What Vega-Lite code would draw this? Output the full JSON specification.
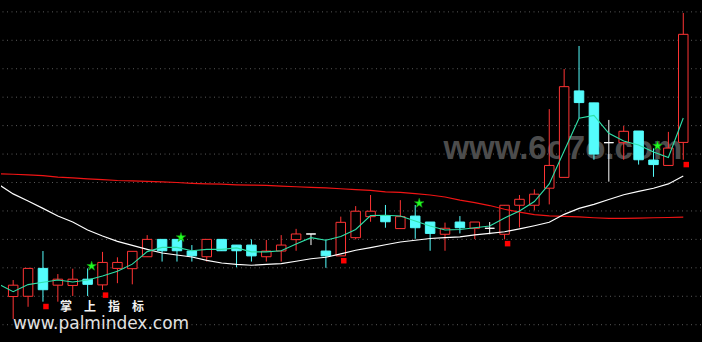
{
  "$schema": "https://vega.github.io/schema/vega-lite/v6.json",
  "width": 702,
  "height": 342,
  "autosize": {"type": "fit", "contains": "padding"},
  "padding": 0,
  "background": "#000000",
  "config": {"view": {"stroke": null}},
  "datasets": {
    "k": [
      {"i":0,"t":"up","o":0.99,"h":1.57,"l":0.20,"c":1.39},
      {"i":1,"t":"up","o":1.00,"h":1.98,"l":0.63,"c":1.98},
      {"i":2,"t":"down","o":1.98,"h":2.59,"l":0.81,"c":1.23},
      {"i":3,"t":"up","o":1.39,"h":1.78,"l":0.81,"c":1.60},
      {"i":4,"t":"up","o":1.38,"h":1.97,"l":1.01,"c":1.60},
      {"i":5,"t":"down","o":1.60,"h":1.98,"l":1.01,"c":1.42},
      {"i":6,"t":"up","o":1.40,"h":2.56,"l":1.22,"c":2.19},
      {"i":7,"t":"up","o":1.98,"h":2.37,"l":1.46,"c":2.19},
      {"i":8,"t":"up","o":1.97,"h":2.58,"l":1.42,"c":2.58},
      {"i":9,"t":"up","o":2.39,"h":3.15,"l":2.39,"c":3.00},
      {"i":10,"t":"down","o":3.00,"h":3.00,"l":2.22,"c":2.60},
      {"i":11,"t":"down","o":3.00,"h":3.00,"l":2.22,"c":2.60},
      {"i":12,"t":"down","o":2.59,"h":2.80,"l":2.22,"c":2.42},
      {"i":13,"t":"up","o":2.39,"h":3.00,"l":2.22,"c":3.00},
      {"i":14,"t":"down","o":3.00,"h":3.00,"l":2.60,"c":2.60},
      {"i":15,"t":"down","o":2.80,"h":2.80,"l":2.02,"c":2.60},
      {"i":16,"t":"down","o":2.80,"h":3.00,"l":2.22,"c":2.42},
      {"i":17,"t":"up","o":2.39,"h":2.98,"l":2.22,"c":2.59},
      {"i":18,"t":"up","o":2.59,"h":3.15,"l":2.22,"c":2.80},
      {"i":19,"t":"up","o":2.99,"h":3.37,"l":2.60,"c":3.19},
      {"i":20,"t":"doji","o":3.19,"h":3.19,"l":2.80,"c":3.19},
      {"i":21,"t":"down","o":2.59,"h":3.00,"l":2.00,"c":2.42},
      {"i":22,"t":"up","o":2.42,"h":3.80,"l":2.42,"c":3.60},
      {"i":23,"t":"up","o":3.06,"h":4.17,"l":3.00,"c":3.99},
      {"i":24,"t":"up","o":3.80,"h":4.56,"l":3.62,"c":3.99},
      {"i":25,"t":"down","o":3.83,"h":4.21,"l":3.41,"c":3.62},
      {"i":26,"t":"up","o":3.38,"h":4.38,"l":3.38,"c":3.80},
      {"i":27,"t":"down","o":3.82,"h":4.21,"l":3.02,"c":3.41},
      {"i":28,"t":"down","o":3.61,"h":3.61,"l":2.60,"c":3.21},
      {"i":29,"t":"up","o":3.18,"h":3.59,"l":2.60,"c":3.39},
      {"i":30,"t":"down","o":3.61,"h":3.82,"l":3.21,"c":3.41},
      {"i":31,"t":"up","o":3.39,"h":3.61,"l":3.01,"c":3.61},
      {"i":32,"t":"doji","o":3.39,"h":3.61,"l":3.18,"c":3.39},
      {"i":33,"t":"up","o":3.18,"h":4.21,"l":3.00,"c":4.20},
      {"i":34,"t":"up","o":4.20,"h":4.56,"l":3.42,"c":4.41},
      {"i":35,"t":"up","o":4.20,"h":4.76,"l":4.02,"c":4.59},
      {"i":36,"t":"up","o":4.80,"h":7.58,"l":4.23,"c":5.60},
      {"i":37,"t":"up","o":5.18,"h":8.99,"l":5.18,"c":8.37},
      {"i":38,"t":"down","o":8.22,"h":9.80,"l":7.26,"c":7.81},
      {"i":39,"t":"down","o":7.80,"h":7.80,"l":5.80,"c":6.00},
      {"i":40,"t":"doji","o":6.40,"h":7.20,"l":5.03,"c":6.40},
      {"i":41,"t":"up","o":6.40,"h":6.99,"l":5.80,"c":6.80},
      {"i":42,"t":"down","o":6.81,"h":6.81,"l":5.63,"c":5.80},
      {"i":43,"t":"down","o":5.79,"h":6.20,"l":5.20,"c":5.63},
      {"i":44,"t":"up","o":5.60,"h":6.78,"l":5.60,"c":6.21},
      {"i":45,"t":"up","o":6.41,"h":10.96,"l":5.80,"c":10.21}
    ],
    "ma": [
      {"i":-1,"f":1.43,"w":4.94,"r":5.31},
      {"i":0,"f":1.16,"w":4.60,"r":5.29},
      {"i":1,"f":1.41,"w":4.35,"r":5.27},
      {"i":2,"f":1.49,"w":4.09,"r":5.24},
      {"i":3,"f":1.57,"w":3.82,"r":5.19},
      {"i":4,"f":1.50,"w":3.61,"r":5.16},
      {"i":5,"f":1.57,"w":3.33,"r":5.13},
      {"i":6,"f":1.71,"w":3.12,"r":5.10},
      {"i":7,"f":1.88,"w":2.93,"r":5.07},
      {"i":8,"f":2.13,"w":2.79,"r":5.06},
      {"i":9,"f":2.57,"w":2.65,"r":5.04},
      {"i":10,"f":2.72,"w":2.52,"r":5.02},
      {"i":11,"f":2.72,"w":2.45,"r":5.00},
      {"i":12,"f":2.60,"w":2.38,"r":4.97},
      {"i":13,"f":2.65,"w":2.26,"r":4.95},
      {"i":14,"f":2.65,"w":2.17,"r":4.94},
      {"i":15,"f":2.70,"w":2.12,"r":4.92},
      {"i":16,"f":2.56,"w":2.09,"r":4.91},
      {"i":17,"f":2.56,"w":2.12,"r":4.90},
      {"i":18,"f":2.60,"w":2.15,"r":4.87},
      {"i":19,"f":2.84,"w":2.23,"r":4.85},
      {"i":20,"f":3.06,"w":2.32,"r":4.83},
      {"i":21,"f":2.97,"w":2.37,"r":4.81},
      {"i":22,"f":3.10,"w":2.49,"r":4.78},
      {"i":23,"f":3.35,"w":2.62,"r":4.75},
      {"i":24,"f":3.84,"w":2.71,"r":4.72},
      {"i":25,"f":3.85,"w":2.81,"r":4.67},
      {"i":26,"f":3.82,"w":2.91,"r":4.65},
      {"i":27,"f":3.65,"w":2.97,"r":4.61},
      {"i":28,"f":3.47,"w":3.03,"r":4.56},
      {"i":29,"f":3.33,"w":3.06,"r":4.49},
      {"i":30,"f":3.35,"w":3.09,"r":4.38},
      {"i":31,"f":3.41,"w":3.16,"r":4.29},
      {"i":32,"f":3.47,"w":3.21,"r":4.19},
      {"i":33,"f":3.75,"w":3.27,"r":4.06},
      {"i":34,"f":4.00,"w":3.37,"r":3.96},
      {"i":35,"f":4.33,"w":3.48,"r":3.87},
      {"i":36,"f":4.95,"w":3.60,"r":3.83},
      {"i":37,"f":6.11,"w":3.88,"r":3.81},
      {"i":38,"f":7.26,"w":4.09,"r":3.79},
      {"i":39,"f":7.36,"w":4.23,"r":3.76},
      {"i":40,"f":6.73,"w":4.40,"r":3.74},
      {"i":41,"f":6.46,"w":4.57,"r":3.74},
      {"i":42,"f":6.32,"w":4.69,"r":3.75},
      {"i":43,"f":6.07,"w":4.80,"r":3.76},
      {"i":44,"f":5.88,"w":4.95,"r":3.77},
      {"i":45,"f":7.27,"w":5.23,"r":3.78}
    ],
    "stars": [
      {"i":5,"v":2.06},
      {"i":11,"v":3.07},
      {"i":27,"v":4.27},
      {"i":43,"v":6.29}
    ],
    "squares": [
      {"i":2,"v":0.64},
      {"i":6,"v":1.04},
      {"i":22,"v":2.25},
      {"i":33,"v":2.85},
      {"i":45,"v":5.63}
    ],
    "labels": [
      {"i":28.89,"v":5.83,"txt":"www.6o7o.com"},
      {"i":3.15,"v":0.62,"txt":"掌　上　指　标"},
      {"i":-0.02,"v":-0.14,"txt":"www.palmindex.com"}
    ],
    "grid": [
      {"v":0},{"v":1},{"v":2},{"v":3},{"v":4},{"v":5},{"v":6},{"v":7},{"v":8},{"v":9},{"v":10},{"v":11}
    ]
  },
  "layer": [
    {
      "data": {"name": "grid"},
      "mark": {"type": "rule", "color": "#5a5a5a", "strokeWidth": 1, "strokeDash": [1, 3.5]},
      "encoding": {
        "y": {"field": "v", "type": "quantitative", "scale": {"domain": [-0.608, 11.417], "nice": false, "zero": false}, "axis": null}
      }
    },
    {
      "data": {"name": "labels"},
      "transform": [{"filter": "datum.txt == 'www.6o7o.com'"}],
      "mark": {"type": "text", "font": "Liberation Sans", "fontWeight": "bold", "fontSize": 33, "fill": "#4c4c4c", "align": "left", "baseline": "alphabetic"},
      "encoding": {
        "x": {"field": "i", "type": "quantitative", "scale": {"domain": [-0.482, 45.855], "nice": false, "zero": false}, "axis": null},
        "y": {"field": "v", "type": "quantitative", "scale": {"domain": [-0.608, 11.417], "nice": false, "zero": false}, "axis": null},
        "text": {"field": "txt"}
      }
    },
    {
      "data": {"name": "k"},
      "mark": {"type": "rule", "strokeWidth": 1},
      "encoding": {
        "x": {"field": "i", "type": "quantitative", "scale": {"domain": [-0.482, 45.855], "nice": false, "zero": false}, "axis": null},
        "y": {"field": "l", "type": "quantitative", "scale": {"domain": [-0.608, 11.417], "nice": false, "zero": false}, "axis": null},
        "y2": {"field": "h"},
        "color": {"field": "t", "type": "nominal", "scale": {"domain": ["up", "down", "doji"], "range": ["#ff3434", "#54fcfc", "#ffffff"]}, "legend": null}
      }
    },
    {
      "data": {"name": "k"},
      "mark": {"type": "bar", "width": 9.5, "strokeWidth": 1},
      "encoding": {
        "x": {"field": "i", "type": "quantitative", "scale": {"domain": [-0.482, 45.855], "nice": false, "zero": false}, "axis": null},
        "y": {"field": "o", "type": "quantitative", "scale": {"domain": [-0.608, 11.417], "nice": false, "zero": false}, "axis": null},
        "y2": {"field": "c"},
        "fill": {"field": "t", "type": "nominal", "scale": {"domain": ["up", "down", "doji"], "range": ["#000000", "#54fcfc", "#ffffff"]}, "legend": null},
        "stroke": {"field": "t", "type": "nominal", "scale": {"domain": ["up", "down", "doji"], "range": ["#ff3434", "#54fcfc", "#ffffff"]}, "legend": null}
      }
    },
    {
      "data": {"name": "ma"},
      "mark": {"type": "line", "color": "#f01414", "strokeWidth": 1.2, "clip": true},
      "encoding": {
        "x": {"field": "i", "type": "quantitative", "scale": {"domain": [-0.482, 45.855], "nice": false, "zero": false}, "axis": null},
        "y": {"field": "r", "type": "quantitative", "scale": {"domain": [-0.608, 11.417], "nice": false, "zero": false}, "axis": null}
      }
    },
    {
      "data": {"name": "ma"},
      "mark": {"type": "line", "color": "#ffffff", "strokeWidth": 1.15, "clip": true},
      "encoding": {
        "x": {"field": "i", "type": "quantitative", "scale": {"domain": [-0.482, 45.855], "nice": false, "zero": false}, "axis": null},
        "y": {"field": "w", "type": "quantitative", "scale": {"domain": [-0.608, 11.417], "nice": false, "zero": false}, "axis": null}
      }
    },
    {
      "data": {"name": "ma"},
      "mark": {"type": "line", "color": "#2fe0a8", "strokeWidth": 1.1, "clip": true},
      "encoding": {
        "x": {"field": "i", "type": "quantitative", "scale": {"domain": [-0.482, 45.855], "nice": false, "zero": false}, "axis": null},
        "y": {"field": "f", "type": "quantitative", "scale": {"domain": [-0.608, 11.417], "nice": false, "zero": false}, "axis": null}
      }
    },
    {
      "data": {"name": "stars"},
      "mark": {"type": "point", "shape": "M0,-1L0.2245,-0.309L0.951,-0.309L0.363,0.118L0.588,0.809L0,0.382L-0.588,0.809L-0.363,0.118L-0.951,-0.309L-0.2245,-0.309Z", "size": 100, "filled": true, "fill": "#22ff22", "stroke": "#119911", "strokeWidth": 0.6, "opacity": 1, "xOffset": 4},
      "encoding": {
        "x": {"field": "i", "type": "quantitative", "scale": {"domain": [-0.482, 45.855], "nice": false, "zero": false}, "axis": null},
        "y": {"field": "v", "type": "quantitative", "scale": {"domain": [-0.608, 11.417], "nice": false, "zero": false}, "axis": null}
      }
    },
    {
      "data": {"name": "squares"},
      "mark": {"type": "point", "shape": "square", "size": 30, "filled": true, "color": "#ff0000", "opacity": 1, "xOffset": 3},
      "encoding": {
        "x": {"field": "i", "type": "quantitative", "scale": {"domain": [-0.482, 45.855], "nice": false, "zero": false}, "axis": null},
        "y": {"field": "v", "type": "quantitative", "scale": {"domain": [-0.608, 11.417], "nice": false, "zero": false}, "axis": null}
      }
    },
    {
      "data": {"name": "labels"},
      "transform": [{"filter": "datum.txt == '掌　上　指　标'"}],
      "mark": {"type": "text", "font": "Noto Sans CJK SC", "fontWeight": "bold", "fontSize": 12, "fill": "#f2f2f2", "align": "left", "baseline": "middle"},
      "encoding": {
        "x": {"field": "i", "type": "quantitative", "scale": {"domain": [-0.482, 45.855], "nice": false, "zero": false}, "axis": null},
        "y": {"field": "v", "type": "quantitative", "scale": {"domain": [-0.608, 11.417], "nice": false, "zero": false}, "axis": null},
        "text": {"field": "txt"}
      }
    },
    {
      "data": {"name": "labels"},
      "transform": [{"filter": "datum.txt == 'www.palmindex.com'"}],
      "mark": {"type": "text", "font": "DejaVu Sans", "fontSize": 17, "fill": "#e2e2e2", "align": "left", "baseline": "alphabetic"},
      "encoding": {
        "x": {"field": "i", "type": "quantitative", "scale": {"domain": [-0.482, 45.855], "nice": false, "zero": false}, "axis": null},
        "y": {"field": "v", "type": "quantitative", "scale": {"domain": [-0.608, 11.417], "nice": false, "zero": false}, "axis": null},
        "text": {"field": "txt"}
      }
    }
  ]
}
